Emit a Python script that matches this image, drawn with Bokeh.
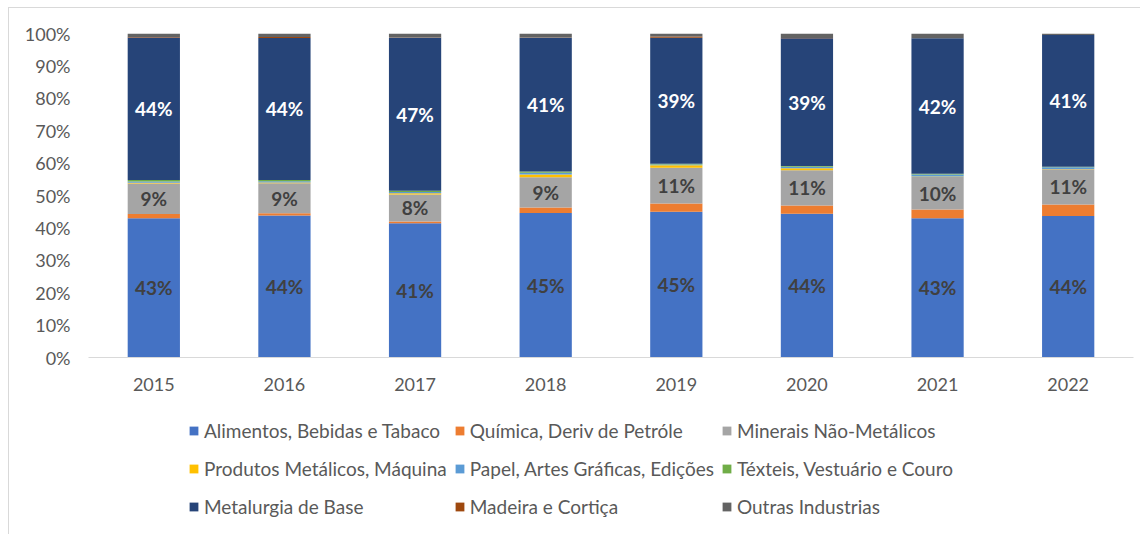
from bokeh.plotting import figure
from bokeh.layouts import column
from bokeh.models import (FactorRange, Legend, LegendItem, ColumnDataSource,
                          FixedTicker, PrintfTickFormatter, Range1d)
from bokeh.core.properties import value
from bokeh.embed import file_html
from bokeh.resources import INLINE

years = ["2015", "2016", "2017", "2018", "2019", "2020", "2021", "2022"]

alimentos = [43.0, 43.8, 41.4, 44.6, 45.0, 44.4, 43.0, 43.7]
quimica = [1.3, 0.7, 0.6, 1.7, 2.5, 2.5, 2.7, 3.5]
minerais = [9.4, 9.3, 8.3, 9.3, 11.1, 10.9, 10.0, 10.9]
produtos = [0.2, 0.2, 0.4, 0.9, 0.7, 0.6, 0.2, 0.1]
papel = [0.4, 0.4, 0.4, 0.5, 0.3, 0.5, 0.6, 0.5]
texteis = [0.5, 0.4, 0.4, 0.4, 0.2, 0.2, 0.2, 0.2]
metalurgia = [44.0, 43.8, 47.2, 41.3, 38.9, 39.4, 41.8, 40.6]
madeira = [0.1, 0.3, 0.1, 0.1, 0.4, 0.1, 0.0, 0.0]
outras = [1.1, 1.1, 1.2, 1.2, 0.9, 1.4, 1.5, 0.5]

series_names = ["Alimentos, Bebidas e Tabaco", "Química, Deriv de Petróle",
                "Minerais Não-Metálicos", "Produtos Metálicos, Máquina",
                "Papel, Artes Gráficas, Edições", "Téxteis, Vestuário e Couro",
                "Metalurgia de Base", "Madeira e Cortiça", "Outras Industrias"]
series_values = [alimentos, quimica, minerais, produtos, papel, texteis,
                 metalurgia, madeira, outras]
colors = ["#4472C4", "#ED7D31", "#A5A5A5", "#FFC000", "#5B9BD5", "#70AD47",
          "#264478", "#9E480E", "#636363"]
labelled = {0: "#404040", 2: "#404040", 6: "#FFFFFF"}

FONT = "Lato"

data = {"year": years}
keys = []
for i, vals in enumerate(series_values):
    k = f"s{i}"
    keys.append(k)
    data[k] = vals
src = ColumnDataSource(data)

p = figure(x_range=FactorRange(*years), y_range=(0, 100), width=1131, height=400,
           output_backend="svg", toolbar_location=None,
           min_border_left=79, min_border_right=7, min_border_top=25,
           min_border_bottom=51)
p.x_range.range_padding = 0

rends = p.vbar_stack(keys, x="year", width=0.4, source=src, color=colors,
                     line_color=None)

# data labels
for i, col in labelled.items():
    xs, ys, ts = [], [], []
    for j, y in enumerate(years):
        base = sum(series_values[k][j] for k in range(i))
        v = series_values[i][j]
        xs.append(y)
        ys.append(base + v / 2)
        ts.append(f"{round(v):d}%")
    p.text(x=xs, y=ys, text=ts, text_align="center", text_baseline="middle",
           text_font=value(FONT), text_font_style="bold", text_font_size="19px",
           text_color=col)

p.xgrid.grid_line_color = None
p.ygrid.grid_line_color = None
p.outline_line_color = None

p.yaxis.ticker = FixedTicker(ticks=list(range(0, 101, 10)))
p.yaxis.formatter = PrintfTickFormatter(format="%d%%")
p.yaxis.axis_line_color = None
p.yaxis.major_tick_line_color = None
p.yaxis.minor_tick_line_color = None
p.yaxis.major_label_text_font = FONT
p.yaxis.major_label_text_font_size = "18px"
p.yaxis.major_label_text_color = "#595959"
p.yaxis.major_label_standoff = 12

p.xaxis.axis_line_color = "#d9d9d9"
p.xaxis.major_tick_line_color = None
p.xaxis.minor_tick_line_color = None
p.xaxis.major_label_text_font = FONT
p.xaxis.major_label_text_font_size = "18px"
p.xaxis.major_label_text_color = "#595959"
p.xaxis.major_label_standoff = 14

# legend in its own strip below the chart
lg = figure(width=1131, height=126, x_range=Range1d(0, 1), y_range=Range1d(0, 1),
            output_backend="svg", toolbar_location=None,
            x_axis_location=None, y_axis_location=None,
            min_border_left=0, min_border_right=0, min_border_top=0,
            min_border_bottom=0)
lg.grid.visible = False
lg.outline_line_color = None
swatches = [lg.vbar(x=[-5], top=[0], width=0.1, color=c, line_color=None)
            for c in colors]

items = [LegendItem(label=n, renderers=[r]) for n, r in zip(series_names, swatches)]
legend = Legend(items=items, ncols=3, orientation="horizontal",
                location=(100, 12), label_text_font=FONT,
                label_text_font_size="19px", label_text_color="#595959",
                glyph_width=11, glyph_height=11, label_height=31,
                label_standoff=5, spacing=7, padding=0, margin=0,
                border_line_color=None, background_fill_alpha=0)
lg.add_layout(legend, "center")

layout = column(p, lg, spacing=0, margin=(7, 0, 0, 8),
                styles={"border-left": "1px solid #d9d9d9",
                        "border-top": "1px solid #d9d9d9"})

open("out.html", "w").write(file_html(layout, INLINE))
